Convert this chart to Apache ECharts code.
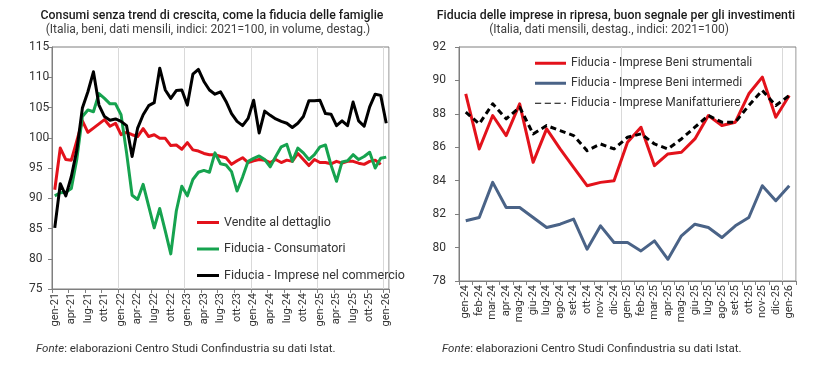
<!DOCTYPE html>
<html>
<head>
<meta charset="utf-8">
<script src="https://cdn.jsdelivr.net/npm/echarts@6/dist/echarts.min.js"></script>
<style>
html,body{margin:0;padding:0;background:#fff;}
#c{width:825px;height:366px;}
</style>
</head>
<body>
<div id="c"></div>
<script>
// ---------- Left chart data ----------
const leftMonths = ['gen','feb','mar','apr','mag','giu','lug','ago','set','ott','nov','dic'];
const leftCategories = [];
for (let y = 21; y <= 26; y++) {
  for (let m = 0; m < 12; m++) {
    if (y === 26 && m > 0) break;
    leftCategories.push(leftMonths[m] + '-' + y);
  }
}
const venditeDettaglio = [91.4, 98.3, 96.4, 96.3, 99.5, 102.8, 100.9, 101.6, 102.3, 103.0, 101.9, 102.4,
  100.5, 100.9, 100.5, 100.2, 101.5, 100.2, 100.5, 99.9, 99.9, 98.7, 98.8, 98.1,
  99.2, 98.0, 97.8, 97.4, 97.2, 97.2, 96.9, 96.7, 95.6, 96.2, 96.7, 95.9,
  96.2, 96.4, 96.3, 95.9, 96.4, 95.9, 96.3, 96.1, 97.4, 96.4, 95.4, 96.4,
  95.9, 95.9, 95.7, 96.1, 95.8, 96.1, 96.1, 95.8, 95.6, 96.1, 96.3, 95.6, null];
const fiduciaConsumatori = [90.4, 90.9, 91.0, 91.6, 96.5, 103.5, 104.6, 104.3, 107.3, 106.5, 105.6, 105.6,
  103.8, 97.5, 90.5, 89.8, 92.3, 88.7, 85.1, 88.3, 84.6, 80.8, 87.9, 92.0,
  90.4, 93.1, 94.3, 94.6, 94.3, 97.5, 95.7, 95.5, 94.4, 91.2, 93.5, 96.1,
  96.6, 97.0, 96.4, 95.2, 96.9, 98.5, 98.9, 96.1, 98.3, 97.5, 96.4, 97.2,
  98.5, 98.8, 95.5, 92.8, 96.0, 96.2, 97.2, 96.4, 96.9, 97.6, 95.0, 96.6, 96.8];
const fiduciaCommercio = [85.1, 92.4, 90.4, 93.6, 98.0, 104.9, 107.6, 110.9, 105.4, 103.5, 102.9, 103.1,
  102.7, 102.0, 96.9, 101.6, 103.8, 105.3, 105.8, 111.5, 107.9, 106.5, 107.8, 107.9,
  105.4, 110.5, 111.3, 109.3, 107.9, 107.2, 107.6, 106.0, 104.0, 102.7, 102.0, 103.2,
  106.2, 100.8, 104.4, 103.7, 103.1, 102.7, 102.4, 101.7, 102.4, 103.5, 106.1, 106.1,
  106.2, 104.0, 103.9, 102.0, 102.8, 102.0, 105.9, 102.8, 101.9, 105.1, 107.2, 107.0, 102.4];

// ---------- Right chart data ----------
const rightCategories = ['gen-24','feb-24','mar-24','apr-24','mag-24','giu-24','lug-24','ago-24','set-24','ott-24','nov-24','dic-24',
  'gen-25','feb-25','mar-25','apr-25','mag-25','giu-25','lug-25','ago-25','set-25','ott-25','nov-25','dic-25','gen-26'];
const beniStrumentali = [89.2, 85.9, 87.9, 86.7, 88.6, 85.1, 87.1, 85.9, 84.8, 83.7, 83.9, 84.0,
  86.3, 87.2, 84.9, 85.6, 85.7, 86.5, 87.9, 87.3, 87.5, 89.2, 90.2, 87.8, 89.1];
const beniIntermedi = [81.6, 81.8, 83.9, 82.4, 82.4, 81.8, 81.2, 81.4, 81.7, 79.9, 81.3, 80.3,
  80.3, 79.8, 80.4, 79.3, 80.7, 81.4, 81.2, 80.6, 81.3, 81.8, 83.7, 82.8, 83.7];
const manifatturiere = [88.1, 87.4, 88.6, 87.7, 88.4, 86.8, 87.3, 87.0, 86.7, 85.8, 86.2, 85.9,
  86.6, 86.8, 86.2, 85.9, 86.5, 87.2, 87.9, 87.5, 87.5, 88.5, 89.4, 88.5, 89.1];

const leftNames = ['Vendite al dettaglio', 'Fiducia - Consumatori', 'Fiducia - Imprese nel commercio'];
const rightNames = ['Fiducia - Imprese Beni strumentali', 'Fiducia - Imprese Beni intermedi', 'Fiducia - Imprese Manifatturiere'];

const FONT = 'Roboto, "Noto Sans", sans-serif';
const RED = '#e3121b', GREEN = '#16a34f', BLACK = '#000000', BLUE = '#4a6387';
const AX = '#7f7f7f', GRIDC = '#d9d9d9', TXT = '#333333';
const SOLID_ICON = 'rect';
const DASH_ICON = 'path://M0 0H7V1H0Z M11 0H18V1H11Z M22 0H29V1H22Z M33 0H35V1H33Z';

const chart = echarts.init(document.getElementById('c'), null, {renderer: 'canvas'});

function xAxisCfg(gridIndex, cats, labelInterval) {
  return {
    type: 'category', gridIndex, data: cats, boundaryGap: true,
    axisLine: {show: true, lineStyle: {color: AX, width: 1}},
    axisTick: {show: true, interval: labelInterval, length: 4, lineStyle: {color: AX}},
    axisLabel: {interval: labelInterval, rotate: 90, fontSize: 11, color: TXT, fontFamily: FONT, margin: 4},
    splitLine: {show: true, interval: (i) => i % 12 === 0, lineStyle: {color: GRIDC, width: 1}}
  };
}
function yAxisCfg(gridIndex, min, max, interval, align, margin) {
  return {
    type: 'value', gridIndex, min, max, interval,
    axisLine: {show: true, lineStyle: {color: AX}},
    axisTick: {show: true, length: 4, lineStyle: {color: AX}},
    axisLabel: {fontSize: 12, color: TXT, fontFamily: FONT, align, margin},
    splitLine: {show: false}
  };
}
function lineSeries(name, data, color, xi, yi, dashed) {
  return {
    name, type: 'line', data, xAxisIndex: xi, yAxisIndex: yi,
    symbol: 'none', smooth: false, connectNulls: false,
    lineStyle: {color, width: 3, type: dashed ? [6, 4] : 'solid', cap: 'butt', join: 'round'},
    itemStyle: {color},
    emphasis: {disabled: true}, animation: false
  };
}

const option = {
  animation: false,
  textStyle: {fontFamily: FONT},
  grid: [
    {left: 52, top: 47, width: 337, height: 242, show: true, borderColor: AX, borderWidth: 1, containLabel: false},
    {left: 459, top: 47, width: 337, height: 234, show: true, borderColor: AX, borderWidth: 1, containLabel: false}
  ],
  xAxis: [xAxisCfg(0, leftCategories, 2), xAxisCfg(1, rightCategories, 0)],
  yAxis: [yAxisCfg(0, 75, 115, 5, 'left', 23), yAxisCfg(1, 78, 92, 2, 'right', 13)],
  legend: [
    {data: leftNames.map(n => ({name: n, icon: SOLID_ICON})), orient: 'vertical', left: 192, top: 210,
      itemWidth: 22, itemHeight: 3, itemGap: 11.5,
      textStyle: {fontSize: 12.5, color: TXT, fontFamily: FONT, lineHeight: 15}, selectedMode: false},
    {data: [
        {name: rightNames[0], icon: SOLID_ICON},
        {name: rightNames[1], icon: SOLID_ICON},
        {name: rightNames[2], icon: DASH_ICON}],
      orient: 'vertical', left: 530, top: 51, itemWidth: 31, itemHeight: 3, itemGap: 5.5,
      textStyle: {fontSize: 12, color: TXT, fontFamily: FONT, lineHeight: 14.5}, selectedMode: false}
  ],
  series: [
    lineSeries(leftNames[0], venditeDettaglio, RED, 0, 0),
    lineSeries(leftNames[1], fiduciaConsumatori, GREEN, 0, 0),
    lineSeries(leftNames[2], fiduciaCommercio, BLACK, 0, 0),
    lineSeries(rightNames[0], beniStrumentali, RED, 1, 1),
    lineSeries(rightNames[1], beniIntermedi, BLUE, 1, 1),
    lineSeries(rightNames[2], manifatturiere, BLACK, 1, 1, true)
  ],
  graphic: [
    {type: 'text', x: 212, y: 16, style: {text: 'Consumi senza trend di crescita, come la fiducia delle famiglie', align: 'center', verticalAlign: 'middle', fontSize: 12.3, fontWeight: 500, fill: '#1a1a1a', fontFamily: FONT}},
    {type: 'text', x: 208, y: 30, style: {text: '(Italia, beni, dati mensili, indici: 2021=100, in volume, destag.)', align: 'center', verticalAlign: 'middle', fontSize: 12, fill: '#404040', fontFamily: FONT}},
    {type: 'text', x: 616, y: 16, style: {text: 'Fiducia delle imprese in ripresa, buon segnale per gli investimenti', align: 'center', verticalAlign: 'middle', fontSize: 12.3, fontWeight: 500, fill: '#1a1a1a', fontFamily: FONT}},
    {type: 'text', x: 609, y: 30, style: {text: '(Italia, dati mensili, destag., indici: 2021=100)', align: 'center', verticalAlign: 'middle', fontSize: 12, fill: '#404040', fontFamily: FONT}},
    {type: 'text', x: 36, y: 349, style: {text: '{i|Fonte}: elaborazioni Centro Studi Confindustria su dati Istat.', verticalAlign: 'middle', fontSize: 11.5, fill: TXT, fontFamily: FONT,
      rich: {i: {fontStyle: 'italic', fontSize: 11.5, fill: TXT, fontFamily: FONT}}}},
    {type: 'text', x: 442, y: 349, style: {text: '{i|Fonte}: elaborazioni Centro Studi Confindustria su dati Istat.', verticalAlign: 'middle', fontSize: 11.5, fill: TXT, fontFamily: FONT,
      rich: {i: {fontStyle: 'italic', fontSize: 11.5, fill: TXT, fontFamily: FONT}}}}
  ]
};
chart.setOption(option);
</script>
</body>
</html>
